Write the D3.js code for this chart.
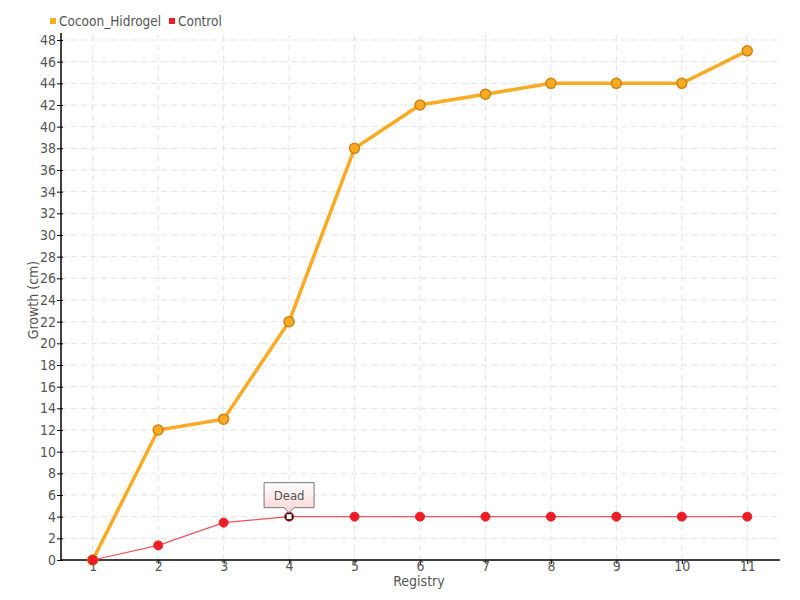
<!DOCTYPE html>
<html><head><meta charset="utf-8">
<script src="https://cdn.jsdelivr.net/npm/d3@7"></script>
<style>
body{margin:0;background:#fff;}
text{font-family:"DejaVu Sans Condensed","DejaVu Sans",sans-serif;font-stretch:condensed;fill:#555;}
</style></head>
<body><svg id="c" width="800" height="600"></svg>
<script>
const registry = [1,2,3,4,5,6,7,8,9,10,11];
const cocoon = [0,12,13,22,38,42,43,44,44,44,47];
const control = [0,1.35,3.45,4,4,4,4,4,4,4,4];
const yTicks = d3.range(0,49,2);
const seriesNames = ["Cocoon_Hidrogel","Control"];
const seriesColors = ["#fbaa22","#ee1c25"];
const annotation = {index:3, label:"Dead"};

const svg = d3.select("#c");
const x = d3.scaleLinear().domain([0.5,11.5]).range([60,780]);
const y = d3.scaleLinear().domain([0,48]).range([560,40]);

// grid
const g = svg.append("g");
g.selectAll(".hg").data(yTicks.slice(1)).enter().append("line")
  .attr("x1",61).attr("x2",780).attr("y1",d=>y(d)).attr("y2",d=>y(d))
  .attr("stroke","#e3e3e3").attr("stroke-dasharray","6,4");
g.selectAll(".vg").data(registry).enter().append("line")
  .attr("x1",d=>x(d)).attr("x2",d=>x(d)).attr("y1",35).attr("y2",560)
  .attr("stroke","#e3e3e3").attr("stroke-dasharray","6,4");

// axes
const yAxis = svg.append("g").attr("transform","translate(61,0)")
  .call(d3.axisLeft(y).tickValues(yTicks).tickSize(4).tickFormat(d3.format("d")));
yAxis.select(".domain").remove();
yAxis.selectAll(".tick line").attr("x2",-4).attr("x1",2).attr("stroke","#000");
yAxis.selectAll("text").attr("font-size",14).attr("x",-5).attr("fill","#555");
svg.append("line").attr("x1",61).attr("x2",61).attr("y1",33).attr("y2",560).attr("stroke","#000").attr("stroke-width",1.5);

const xAxis = svg.append("g").attr("transform","translate(0,560)")
  .call(d3.axisBottom(x).tickValues(registry).tickSize(4).tickFormat(d3.format("d")));
xAxis.select(".domain").remove();
xAxis.selectAll(".tick line").attr("stroke","#000");
xAxis.selectAll("text").attr("font-size",14).attr("y",1).attr("dy","0.71em").attr("fill","#555");
svg.append("line").attr("x1",61).attr("x2",780).attr("y1",560).attr("y2",560).attr("stroke","#000").attr("stroke-width",1.5);

svg.append("text").attr("x",419).attr("y",586).attr("text-anchor","middle").attr("font-size",14).text("Registry");
svg.append("text").attr("transform","translate(38,300) rotate(-90)").attr("text-anchor","middle").attr("font-size",14).text("Growth (cm)");

// lines
const line = d3.line().x((d,i)=>x(registry[i])).y(d=>y(d));
svg.append("path").datum(cocoon).attr("d",line).attr("fill","none").attr("stroke",seriesColors[0]).attr("stroke-width",3.5);
svg.append("path").datum(control).attr("d",line).attr("fill","none").attr("stroke","#f0525c").attr("stroke-width",1.2);

svg.selectAll(".cp").data(cocoon).enter().append("circle")
  .attr("cx",(d,i)=>x(registry[i])).attr("cy",d=>y(d)).attr("r",5)
  .attr("fill",seriesColors[0]).attr("stroke","#c98516").attr("stroke-width",1.5);
svg.selectAll(".rp").data(control).enter().append("circle")
  .attr("cx",(d,i)=>x(registry[i])).attr("cy",d=>y(d)).attr("r",4.5)
  .attr("fill",(d,i)=>i===annotation.index?"#000":seriesColors[1]).attr("stroke",seriesColors[1]).attr("stroke-width",1);
// annotation marker
const ax = x(registry[annotation.index]), ay = y(control[annotation.index]);
svg.append("rect").attr("x",ax-2.5).attr("y",ay-2.5).attr("width",5).attr("height",5).attr("fill","#fff");

// tooltip
const defs = svg.append("defs");
const grad = defs.append("linearGradient").attr("id","tg").attr("x1",0).attr("x2",0).attr("y1",0).attr("y2",1);
grad.append("stop").attr("offset","0%").attr("stop-color","#ffffff");
grad.append("stop").attr("offset","100%").attr("stop-color","#fbd3d3");
const bx0=ax-25, bx1=ax+25, by0=ay-34, by1=ay-9;
svg.append("path")
  .attr("d",`M${bx0},${by0}H${bx1}V${by1}H${ax+5}L${ax},${by1+5}L${ax-5},${by1}H${bx0}Z`)
  .attr("fill","url(#tg)").attr("stroke","#777").attr("stroke-width",1);
svg.append("text").attr("x",ax).attr("y",by1-8).attr("text-anchor","middle").attr("font-size",13).attr("fill","#444").text(annotation.label);

// legend
const leg = [{x:50},{x:169}];
seriesNames.forEach((n,i)=>{
  svg.append("rect").attr("x",leg[i].x).attr("y",18).attr("width",6).attr("height",6).attr("fill",seriesColors[i]);
  svg.append("text").attr("x",leg[i].x+9).attr("y",26).attr("font-size",13.5).attr("fill","#555").text(n);
});
</script></body></html>
